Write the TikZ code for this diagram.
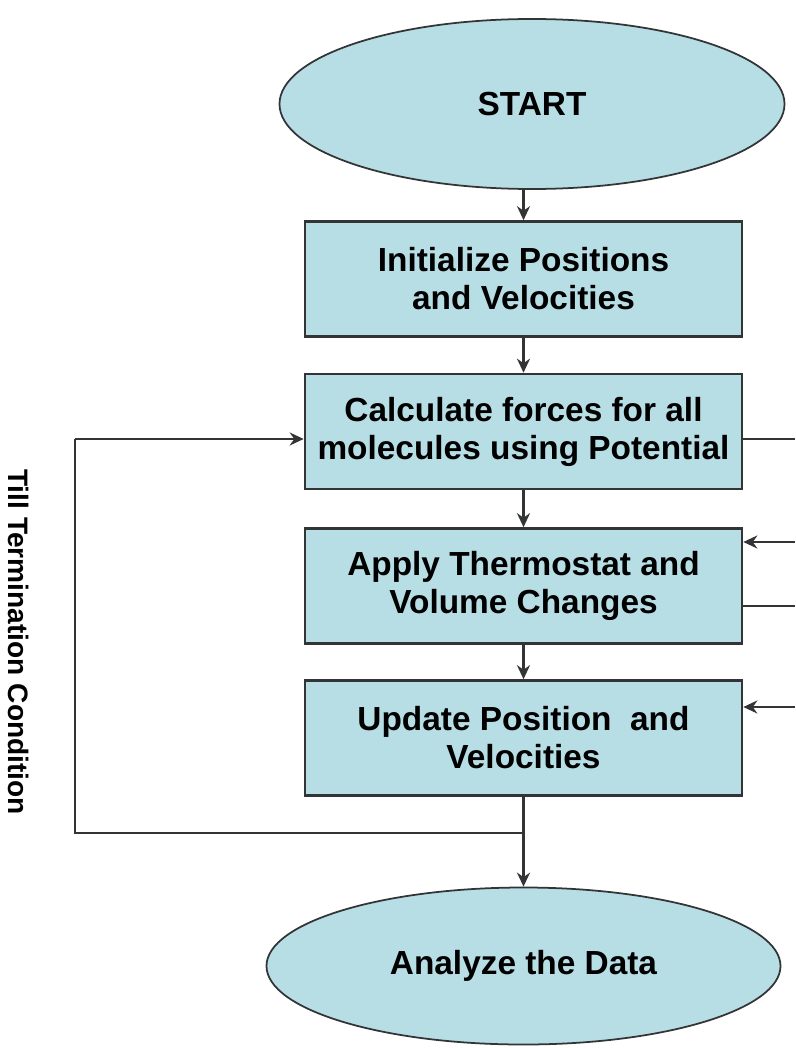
\documentclass[tikz,border=0pt]{standalone}
\usepackage{fontspec}
\setmainfont{Liberation Sans}
\usepackage{tikz}
\usetikzlibrary{positioning}
\usetikzlibrary{arrows.meta,shapes.geometric,calc}

\definecolor{boxfill}{RGB}{183,222,229}
\definecolor{boxline}{RGB}{50,52,54}

\begin{document}
\begin{tikzpicture}[%
    x=0.2mm, y=-0.2mm,
    procbox/.style={rectangle,draw=boxline,fill=boxfill,line width=1.5pt,
        minimum width=87.4mm,minimum height=23mm,inner sep=0pt,align=center,
        font=\fontsize{19}{21.6}\selectfont\bfseries},
    termnode/.style={ellipse,draw=boxline,fill=boxfill,line width=1pt,
        inner sep=0pt,font=\fontsize{19}{21.6}\selectfont\bfseries},
    flowarrow/.style={draw=boxline,line width=1.5pt,-{Stealth[length=2.8mm,width=2.6mm]}},
    flowline/.style={draw=boxline,line width=1.5pt}
]
\useasboundingbox (0,0) rectangle (795,1048);

% ---------------- Terminals ----------------
\node[termnode,minimum width=101mm,minimum height=34mm] (start) at (532,104) {START};
\node[termnode,minimum width=102.8mm,minimum height=31.4mm] (data) at (523.5,966) {Analyze the Data};

% ---------------- Process steps ----------------
\node[procbox] (init) at (523.5,279) {Initialize Positions\\and Velocities};
\node[procbox] (force) at (523.5,431.5) {Calculate forces for all\\molecules using Potential};
\node[procbox] (thermo) at (523.5,586) {Apply Thermostat and\\Volume Changes};
\node[procbox] (update) at (523.5,738) {Update Position~ and\\Velocities};

% ---------------- Loop label ----------------
\node[rotate=-90,font=\fontsize{16}{18}\selectfont\bfseries] (cond) at (19,642)
    {Till Termination Condition};

% ---------------- Main flow ----------------
\draw[flowarrow] (start.south -| init.north) -- (init.north);
\draw[flowarrow] (init) -- (force);
\draw[flowarrow] (force) -- (thermo);
\draw[flowarrow] (thermo) -- (update);
\draw[flowarrow] (update) -- (data);

% ---------------- Loop back ----------------
\coordinate (junc) at (523.5,833);
\coordinate (lcorner) at (75,833);
\coordinate (lin) at (75,439);
\draw[flowline] (junc) -- (lcorner) -- (lin);
\draw[flowarrow] (lin) -- (lin -| force.west);

% ---------------- Right side links ----------------
\foreach \yy/\nn in {439/force,606/thermo} {
    \coordinate (out\nn) at (795,\yy);
    \draw[flowline] (out\nn -| \nn.east) -- (out\nn);
}
\foreach \yy/\nn in {542/thermo,707/update} {
    \coordinate (in\nn) at (795,\yy);
    \draw[flowarrow] (in\nn) -- (in\nn -| \nn.east);
}

\end{tikzpicture}
\end{document}
